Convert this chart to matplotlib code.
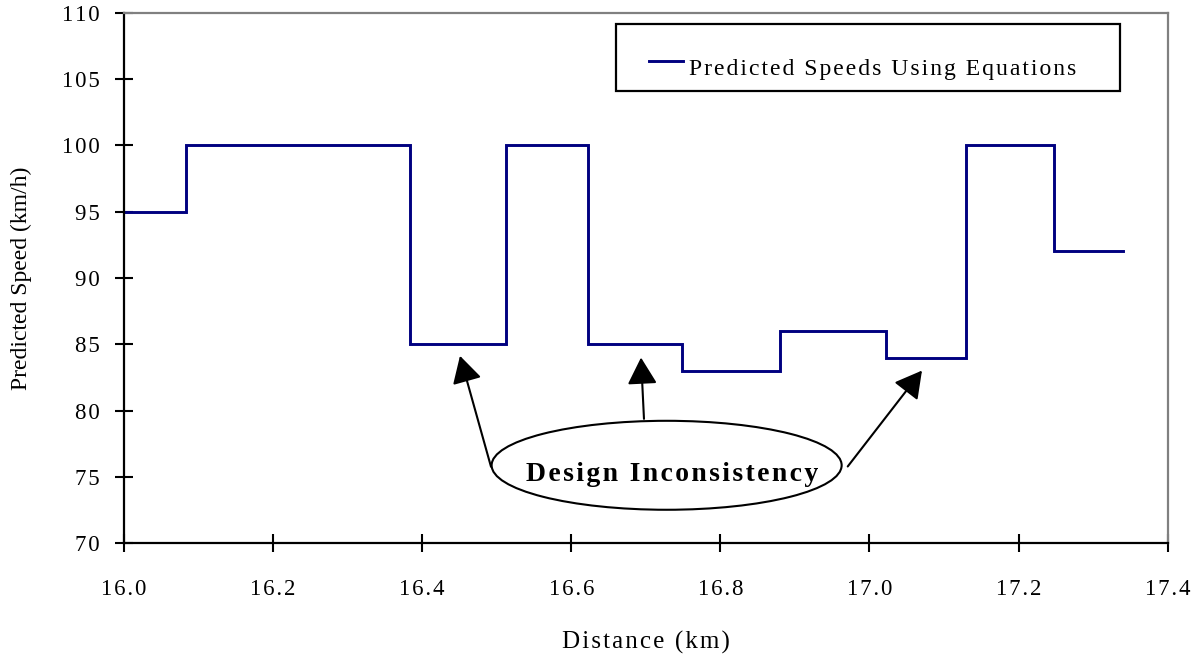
import matplotlib
matplotlib.use("Agg")
import numpy as np
import matplotlib.pyplot as plt
from matplotlib.patches import Ellipse, Rectangle
from matplotlib.lines import Line2D
from matplotlib.legend_handler import HandlerLine2D

# Section boundaries (km) and predicted speed on each section (km/h)
distance_edges = [16.0, 16.083, 16.384, 16.513, 16.622, 16.748,
                  16.880, 17.022, 17.129, 17.247, 17.340]
predicted_speed = [95, 100, 85, 100, 85, 83, 86, 84, 100, 92]

x_ticks = [16.0, 16.2, 16.4, 16.6, 16.8, 17.0, 17.2, 17.4]
x_tick_labels = ["16.0", "16.2", "16.4", "16.6", "16.8", "17.0", "17.2", "17.4"]
y_ticks = [70, 75, 80, 85, 90, 95, 100, 105, 110]
y_tick_labels = ["70", "75", "80", "85", "90", "95", "100", "105", "110"]

series_label = "Predicted Speeds Using Equations"
x_title = "Distance (km)"
y_title = "Predicted Speed (km/h)"
note_text = "Design Inconsistency"

SERIF = ["Liberation Serif", "DejaVu Serif"]
HAIR = "\u200a"


def tracked(s, n=1):
    """Spread the letters of a label a little apart."""
    return (HAIR * n).join(s)


class RaisedLine(HandlerLine2D):
    """Legend line sample drawn a little above the text's middle."""

    def __init__(self, lift=5.5, **kw):
        super().__init__(**kw)
        self.lift = lift

    def create_artists(self, legend, orig_handle, xdescent, ydescent,
                       width, height, fontsize, trans):
        artists = super().create_artists(legend, orig_handle, xdescent,
                                         ydescent, width, height, fontsize,
                                         trans)
        for a in artists:
            if isinstance(a, Line2D):
                a.set_ydata(np.asarray(a.get_ydata(), float) + self.lift)
        return artists


plt.rcParams["font.family"] = SERIF

fig = plt.figure(figsize=(11.98, 6.54), dpi=100)
ax = fig.add_axes([0.1035, 0.1693, 0.8712, 0.8113])

# stepped speed profile
xs, ys = [], []
for i, v in enumerate(predicted_speed):
    xs += [distance_edges[i], distance_edges[i + 1]]
    ys += [v, v]
speed_line, = ax.plot(xs, ys, color="#000080", lw=2.1,
                      solid_joinstyle="miter", label=tracked(series_label))

ax.set_xlim(16.0, 17.4)
ax.set_ylim(70, 110)
ax.set_xticks(x_ticks)
ax.set_xticklabels([tracked(t) for t in x_tick_labels])
ax.set_yticks(y_ticks)
ax.set_yticklabels([tracked(t) for t in y_tick_labels])
ax.tick_params(axis="both", direction="inout", length=12.5, width=1.5,
               labelsize=16.5, colors="black")
ax.tick_params(axis="x", pad=19.5)
ax.tick_params(axis="y", pad=11)

for side in ("left", "bottom"):
    ax.spines[side].set_color("black")
    ax.spines[side].set_linewidth(1.6)
for side in ("top", "right"):
    ax.spines[side].set_color("#808080")
    ax.spines[side].set_linewidth(1.6)

ax.set_xlabel(tracked(x_title), fontsize=18, labelpad=0)
ax.xaxis.set_label_coords(0.5, -0.165)
ax.set_ylabel(y_title, fontsize=17, labelpad=0)
ax.yaxis.set_label_coords(-0.088, 0.5)

# legend: framed box with the sample line and label
box = Rectangle((0.4714, 0.8524), 0.4829, 0.1263, transform=ax.transAxes,
                facecolor="white", edgecolor="black", lw=1.6, zorder=6)
ax.add_patch(box)
leg = ax.legend(handles=[speed_line], loc="center left",
                bbox_to_anchor=(0.5030, 0.8930), fontsize=17, frameon=False,
                handlelength=1.45, handletextpad=0.25, borderpad=0.0,
                borderaxespad=0.0,
                handler_map={speed_line: RaisedLine(lift=4.3)})
leg.set_zorder(7)
leg.get_lines()[0].set_linewidth(2.1)

# annotation: ellipse with clipped bold caption and three arrows
ell = Ellipse((16.7279, 75.88), 0.4695, 6.707, fill=False,
              edgecolor="black", lw=1.5, zorder=4)
ax.add_patch(ell)

txt = ax.text(16.7357, 74.68, tracked(note_text, 1), fontsize=20,
              fontweight="bold", ha="center", va="baseline", zorder=5)
clip = Rectangle((16.45, 74.64), 0.6, 5.0, transform=ax.transData,
                 visible=False)
ax.add_patch(clip)
txt.set_clip_path(clip)

arrow_style = dict(arrowstyle="-|>,head_length=0.72,head_width=0.4",
                   mutation_scale=23, lw=1.5, color="black",
                   shrinkA=0, shrinkB=0)
for tail, tip in [((16.4923, 75.77), (16.4507, 84.13)),
                  ((16.6975, 79.38), (16.6935, 84.00)),
                  ((16.9708, 75.79), (17.0704, 83.02))]:
    ax.annotate("", xy=tip, xytext=tail, arrowprops=arrow_style, zorder=5)

fig.savefig("out.png", dpi=100, facecolor="white")
